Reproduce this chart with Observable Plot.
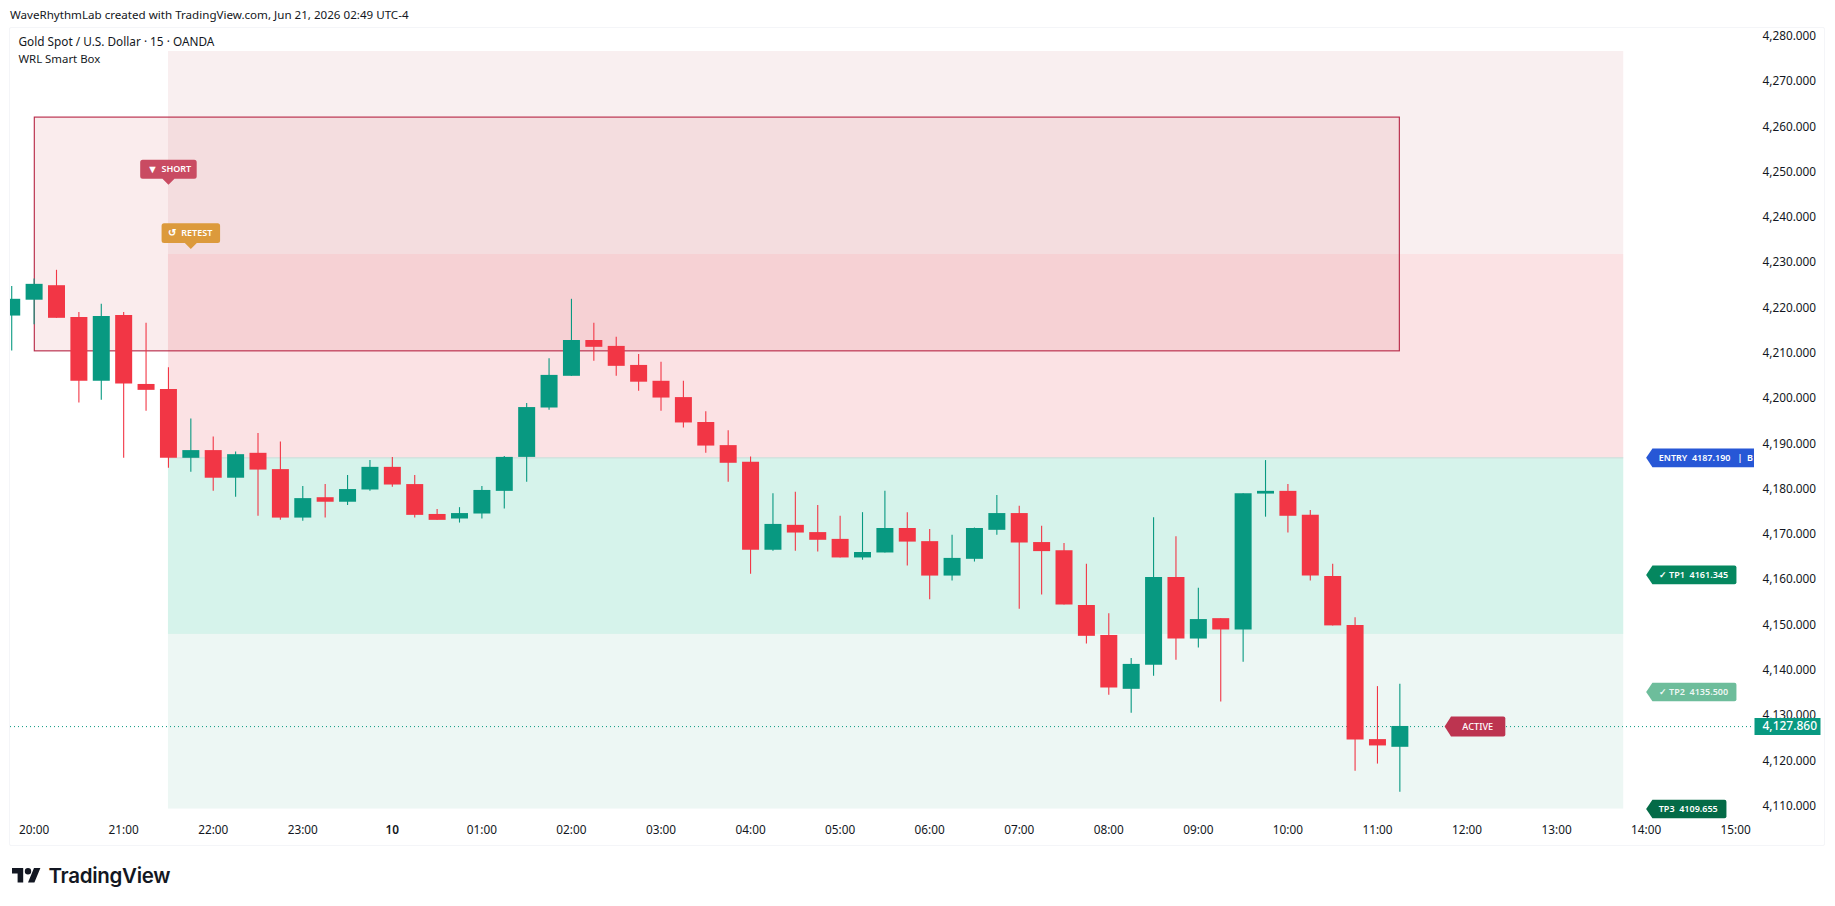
<!DOCTYPE html>
<html>
<head>
<meta charset="utf-8">
<script src="https://cdn.jsdelivr.net/npm/d3@7"></script>
<script src="https://cdn.jsdelivr.net/npm/@observablehq/plot@0.6"></script>
<style>
  html,body{margin:0;padding:0;background:#fff;width:1835px;height:906px;overflow:hidden;}
  #page{position:relative;width:1835px;height:906px;}
  #header{height:27px;box-sizing:border-box;padding:8px 0 0 10px;font:11.6px/14px "Noto Sans",sans-serif;color:#131722;}
  #pane{position:absolute;left:9px;top:27px;width:1814px;height:817px;border:1px solid #f4f5f8;border-radius:2px;}
  #chart{position:relative;height:819px;}
  #chart svg{display:block;}
  #footer{position:relative;height:60px;}
  #logoMark{position:absolute;left:12px;top:22px;width:29px;height:15px;background:#131722;
    clip-path:path("M11.2 14.4H5.6V5.6H0V0h11.2zM22.4 14.4h-6.4L22 0h6.4zM12.8 3.2a3.2 3.2 0 1 0 6.4 0a3.2 3.2 0 1 0-6.4 0z");}
  #logoText{position:absolute;left:48.5px;top:15.5px;font:600 20.5px/28px Inter,sans-serif;color:#131722;letter-spacing:-.3px;}
</style>
</head>
<body>
<div id="page">
  <div id="pane"></div>
  <div id="header">WaveRhythmLab created with TradingView.com, Jun 21, 2026 02:49 UTC-4</div>
  <div id="chart"></div>
  <div id="footer"><div id="logoMark"></div><div id="logoText">TradingView</div></div>
</div>
<script>
// ---- candle values, one entry per 15-minute bar starting 19:45 ----
const opens = [4218.2,4221.7,4224.9,4217.9,4203.8,4218.3,4203.1,4202.0,4186.8,4188.5,4182.4,4187.9,4184.3,4173.6,4178.1,4177.1,4179.8,4184.8,4181.0,4174.4,4173.4,4174.5,4179.5,4187.0,4197.9,4204.9,4212.8,4211.5,4207.3,4203.8,4200.2,4194.7,4189.6,4185.9,4166.5,4172.0,4170.4,4168.9,4164.8,4165.9,4171.3,4168.4,4160.8,4164.5,4170.9,4174.6,4168.2,4166.4,4154.3,4147.7,4135.8,4141.1,4160.5,4146.9,4151.4,4148.9,4178.9,4179.5,4174.2,4160.7,4149.9,4124.7,4123.0];
const highs = [4224.7,4226.4,4228.3,4219.0,4220.8,4219.0,4216.6,4206.8,4195.5,4191.5,4188.2,4192.3,4190.4,4180.6,4181.0,4183.0,4186.3,4187.0,4183.0,4175.5,4175.9,4180.6,4187.2,4198.9,4208.8,4221.9,4216.6,4213.5,4209.7,4208.0,4203.8,4197.1,4192.9,4187.1,4179.0,4179.3,4176.4,4174.0,4174.8,4179.5,4174.8,4171.1,4169.8,4171.4,4178.6,4176.2,4171.8,4168.0,4163.4,4152.5,4142.6,4173.7,4169.5,4158.1,4151.4,4179.0,4186.3,4181.0,4175.3,4163.4,4151.6,4136.4,4136.9];
const lows = [4210.5,4216.3,4217.7,4199.0,4199.6,4186.8,4197.2,4184.6,4183.7,4179.5,4178.2,4174.0,4173.1,4172.9,4173.6,4176.4,4179.5,4180.4,4173.6,4173.1,4172.5,4173.4,4175.6,4181.5,4197.4,4204.9,4208.2,4204.9,4201.6,4197.2,4193.5,4187.9,4181.5,4161.2,4166.3,4166.3,4166.1,4164.8,4164.3,4165.9,4163.0,4155.6,4159.7,4163.9,4169.8,4153.5,4156.6,4154.4,4145.8,4134.5,4130.5,4138.7,4142.2,4144.9,4133.0,4141.8,4173.8,4170.3,4159.7,4149.8,4117.7,4119.3,4113.1];
const closes = [4221.9,4225.2,4217.7,4203.8,4218.1,4203.2,4201.8,4186.8,4188.5,4182.4,4187.6,4184.2,4173.6,4177.9,4177.1,4179.9,4184.8,4180.9,4174.2,4173.1,4174.6,4179.7,4187.0,4198.0,4205.1,4212.8,4211.3,4207.1,4203.6,4200.1,4194.6,4189.5,4185.7,4166.5,4172.2,4170.3,4168.7,4164.8,4166.0,4171.3,4168.3,4160.8,4164.7,4171.3,4174.6,4168.1,4166.2,4154.4,4147.5,4136.1,4141.3,4160.5,4146.9,4151.2,4148.9,4179.0,4179.5,4174.0,4160.8,4149.8,4124.6,4123.3,4127.6];
// the labelled prices show the values above were read about this much too low
const readOffset = 0.29;

// ---- axis labels ----
const priceTicks = [4110,4120,4130,4140,4150,4160,4170,4180,4190,4200,4210,4220,4230,4240,4250,4260,4270,4280];
const hourLabels = ["20:00","21:00","22:00","23:00","10","01:00","02:00","03:00","04:00","05:00","06:00","07:00","08:00","09:00","10:00","11:00","12:00","13:00","14:00","15:00"];
const legendLines = ["Gold Spot / U.S. Dollar \u00b7 15 \u00b7 OANDA","WRL Smart Box"];

// ---- zones ----
const zoneLows   = [4232.1,4187.19,4148.2,4109.655];
const zoneHighs  = [4276.9,4232.1,4187.19,4148.2];
const zoneFills  = ["#f9eff0","#fbe2e4","#d6f3eb","#edf7f4"];
const boxTop = 4262.3, boxBottom = 4210.7;
const entryPrice = 4187.19, lastPrice = 4127.86;

// ---- tags ----
const tp = (h,m=0,day=10) => new Date(Date.UTC(2026,5,day,h,m));
const sp = "\u00a0";
const sideNames  = [`ENTRY${sp}${sp}4187.190${sp}${sp}${sp}|${sp}${sp}B`,`\u2713${sp}TP1${sp}${sp}4161.345`,`\u2713${sp}TP2${sp}${sp}4135.500`,`TP3${sp}${sp}4109.655`];
const sidePrices = [4187.19,4161.345,4135.5,4109.655];
const sideFills  = ["#2757d6","#05875f","#6dbd9b","#046b47"];
const sideWidths = [112,90.3,90.3,80.3];

const barStart = tp(19,45,9).getTime();
const candles = opens.map((o,i)=>({
  t:new Date(barStart+i*15*60000), open:o+readOffset, high:highs[i]+readOffset, low:lows[i]+readOffset, close:closes[i]+readOffset,
  color: closes[i]>=o ? "#089981" : "#f23645"
}));
const hourDates = hourLabels.map((_,i)=>new Date(tp(20,0,9).getTime()+i*3600000));
const xLeft  = new Date(Date.UTC(2026,5,9,19,44,11));
const xRight = new Date(Date.UTC(2026,5,10,15,12,36));
const zoneStart = tp(21,30,9), zoneEnd = tp(13,45);
const zones = zoneLows.map((l,i)=>({y1:l,y2:zoneHighs[i],fill:zoneFills[i]}));

// tag shapes: origin is the pointer tip
const leftTag = (w,h=18.6,a=6.3,r=2) => ({draw(c){
  c.moveTo(0,0); c.lineTo(a,-h/2); c.lineTo(w-r,-h/2);
  c.arcTo(w,-h/2,w,-h/2+r,r); c.lineTo(w,h/2-r); c.arcTo(w,h/2,w-r,h/2,r);
  c.lineTo(a,h/2); c.closePath();
}});
const downTag = (w,h,p=6,r=2.5) => ({draw(c){
  const l=-w/2,R=w/2,t=-p-h,b=-p;
  c.moveTo(0,0); c.lineTo(-p,b); c.lineTo(l+r,b); c.arcTo(l,b,l,b-r,r); c.lineTo(l,t+r);
  c.arcTo(l,t,l+r,t,r); c.lineTo(R-r,t); c.arcTo(R,t,R,t+r,r); c.lineTo(R,b-r);
  c.arcTo(R,b,R-r,b,r); c.lineTo(p,b); c.closePath();
}});
const priceBox = (w,h) => ({draw(c){ c.rect(0,-h/2,w,h); }});

const tagFont = {fontFamily:"Noto Sans, sans-serif", fontWeight:600, fontSize:9, fill:"#fff", textAnchor:"start"};
const sideMarks = sideNames.flatMap((name,i)=>[
  Plot.dot([sidePrices[i]],{x:()=>tp(14), y:d=>d, symbol:leftTag(sideWidths[i]), fill:sideFills[i], stroke:"none", clip:true}),
  Plot.text([name],{x:()=>tp(14), y:()=>sidePrices[i], text:d=>d, dx:12.6, ...tagFont, fillOpacity:i===2?0.9:1, clip:true})
]);

const axisFont = {fontFamily:"Noto Sans, sans-serif", fontSize:11.8, fill:"#131722"};

const chart = Plot.plot({
  width:1835, height:819,
  marginLeft:10, marginRight:81, marginTop:1, marginBottom:24,
  x:{type:"utc", domain:[xLeft,xRight]},
  y:{type:"linear", domain:[4106.69,4281.97]},
  style:{background:"transparent", overflow:"visible"},
  marks:[
    Plot.rect(zones,{x1:()=>zoneStart,x2:()=>zoneEnd,y1:"y1",y2:"y2",fill:"fill"}),
    Plot.ruleY([entryPrice],{x1:()=>zoneStart,x2:()=>zoneEnd,stroke:"#bfc4c4",strokeOpacity:.6,strokeWidth:1}),
    Plot.rect([{y1:boxBottom,y2:boxTop}],{x1:()=>candles[1].t,x2:()=>candles[62].t,y1:"y1",y2:"y2",insetLeft:.7,
      fill:"#c32d37",fillOpacity:.09,stroke:"#b82c4a",strokeWidth:1.15}),
    Plot.ruleY([lastPrice],{stroke:"#089981",strokeWidth:1,strokeDasharray:"1 3"}),
    Plot.ruleX(candles,{x:"t",y1:"low",y2:"high",stroke:"color",strokeWidth:1.1,clip:true}),
    Plot.ruleX(candles,{x:"t",y1:"open",y2:"close",stroke:"color",strokeWidth:17,clip:true}),

    ...legendLines.map((line,i)=>Plot.text([line],{
      frameAnchor:"top-left", dx:8, dy:i===0?13.7:31, text:d=>d, lineAnchor:"middle",
      ...axisFont, fontSize:i===0?11.8:11.4, textAnchor:"start"})),

    Plot.dot([tp(21,30,9)],{x:d=>d,y:()=>4247.5,symbol:downTag(56.5,19),fill:"#c94b62",stroke:"none"}),
    Plot.text(["\u25bc"],{x:()=>tp(21,30,9),y:()=>4247.5,text:d=>d,dx:-21.5,dy:-15.5,...tagFont,fontSize:11}),
    Plot.text(["SHORT"],{x:()=>tp(21,30,9),y:()=>4247.5,text:d=>d,dx:-7,dy:-15.5,...tagFont}),
    Plot.dot([tp(21,45,9)],{x:d=>d,y:()=>4233.3,symbol:downTag(58.5,19.7),fill:"#dc9a3c",stroke:"none"}),
    Plot.text(["\u21ba"],{x:()=>tp(21,45,9),y:()=>4233.3,text:d=>d,dx:-23,dy:-16,...tagFont,fontSize:10}),
    Plot.text(["RETEST"],{x:()=>tp(21,45,9),y:()=>4233.3,text:d=>d,dx:-9.6,dy:-16,...tagFont}),
    Plot.dot([tp(11,45)],{x:d=>d,y:()=>lastPrice,symbol:leftTag(60.7,20,6.4,2),fill:"#bd3450",stroke:"none"}),
    Plot.text(["ACTIVE"],{x:()=>tp(11,45),y:()=>lastPrice,text:d=>d,dx:17.7,...tagFont,fontWeight:500,fontSize:9.2}),

    ...sideMarks,

    Plot.axisX(hourDates.filter((_,i)=>hourLabels[i]!=="10"),{anchor:"bottom",tickSize:0,tickPadding:3,label:null,
      tickFormat:d=>hourLabels[hourDates.findIndex(h=>+h===+d)],...axisFont}),
    Plot.axisX(hourDates.filter((_,i)=>hourLabels[i]==="10"),{anchor:"bottom",tickSize:0,tickPadding:3,label:null,
      tickFormat:d=>hourLabels[hourDates.findIndex(h=>+h===+d)],...axisFont,fontWeight:600}),
    Plot.axisY(priceTicks,{anchor:"right",tickSize:0,tickPadding:8,label:null,dy:-1.3,tickFormat:d3.format(",.3f"),...axisFont}),

    Plot.dot([lastPrice],{x:()=>xRight,y:d=>d,symbol:priceBox(66,17),fill:"#089981",stroke:"none"}),
    Plot.text([lastPrice],{x:()=>xRight,y:d=>d,text:d3.format(",.3f"),dx:8,...axisFont,fontSize:12,fill:"#fff",fontWeight:500,textAnchor:"start"})
  ]
});
document.getElementById("chart").appendChild(chart);
</script>
</body>
</html>
